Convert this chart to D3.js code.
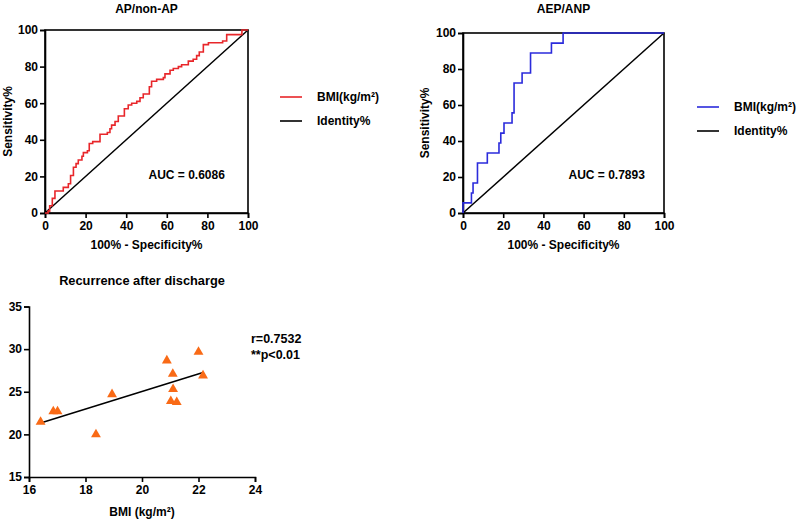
<!DOCTYPE html>
<html>
<head>
<meta charset="utf-8">
<script src="https://cdn.jsdelivr.net/npm/d3@7"></script>
<style>
  body { margin: 0; background: #fff; }
  svg { display: block; font-family: "Liberation Sans", Arial, sans-serif; font-weight: bold; }
</style>
</head>
<body>
<div id="chart"></div>
<script>
// ROC data: [100% - specificity, sensitivity] at each rise of the staircase
const rocTicks = [0, 20, 40, 60, 80, 100];
const apRoc = [[0,0],[1.5,1],[2.3,4],[3.6,8],[4.9,12],[9,14],[11.5,16],[12.6,20.5],[14,25],[15.3,27],
  [16.4,29],[18.2,31],[18.9,33],[20.9,34],[21.8,38],[23.5,39],[27.1,43],[30.7,44],[32,46],[32.8,48],
  [34.5,50],[36.1,53],[39.1,57],[41,59],[42.7,60],[45.2,61],[46.8,63],[48.4,65],[51.4,69],[52.5,72],
  [55,73],[58.3,74],[59.1,76],[61.6,78],[63.2,79],[65.7,80],[67.3,81],[70.6,83],[73,84],[74.7,86],
  [76,88],[78,92],[80.5,93],[87.5,94],[89.5,97.5],[97,100],[100,100]];
const aepRoc = [[0,0],[0,5.6],[4.2,11.1],[5,16.7],[7.2,27.8],[12.1,33.3],[17.9,38.9],[18.8,44.4],
  [20.4,50],[24.4,55.6],[25.4,72.2],[29.4,77.8],[33.6,88.9],[44,94.4],[49.8,100],[100,100]];
const identity = [[0,0],[100,100]];

// scatter data
const bmi = [16.41, 16.86, 17.01, 18.37, 18.94, 20.88, 22.0, 21.09, 22.16, 21.10, 21.02, 21.23];
const recurrence = [21.45, 22.7, 22.7, 20.0, 24.7, 28.66, 29.67, 27.1, 26.9, 25.3, 23.9, 23.77];
const fitX = [16.41, 22.16];
const fitY = [21.34, 27.25];
const scatterXTicks = [16, 18, 20, 22, 24];
const scatterYTicks = [15, 20, 25, 30, 35];

const W = 800, H = 523;
const svg = d3.select("#chart").append("svg").attr("width", W).attr("height", H);

function styleAxis(g) {
  g.selectAll("path").attr("stroke", "#000").attr("stroke-width", 1.6);
  g.selectAll("line").attr("stroke", "#000").attr("stroke-width", 1.6);
  g.selectAll("text").attr("font-family", "Liberation Sans, Arial, sans-serif")
    .attr("font-weight", "bold").attr("font-size", 12).attr("fill", "#000");
}

function drawRoc(o) {
  const x = d3.scaleLinear().domain([0, 100]).range([o.x0, o.x1]);
  const y = d3.scaleLinear().domain([0, 100]).range([o.y0, o.y1]);

  // frame
  svg.append("rect").attr("x", o.x0).attr("y", o.y1)
    .attr("width", o.x1 - o.x0).attr("height", o.y0 - o.y1)
    .attr("fill", "none").attr("stroke", "#000").attr("stroke-width", 1.6);

  svg.append("g").attr("transform", `translate(0,${o.y0})`)
    .call(d3.axisBottom(x).tickValues(rocTicks).tickSize(5).tickPadding(3))
    .call(styleAxis);
  svg.append("g").attr("transform", `translate(${o.x0},0)`)
    .call(d3.axisLeft(y).tickValues(rocTicks).tickSize(5).tickPadding(2))
    .call(styleAxis);

  svg.append("path").datum(identity)
    .attr("fill", "none").attr("stroke", "#000").attr("stroke-width", 1.5)
    .attr("d", d3.line().x(d => x(d[0])).y(d => y(d[1])));

  svg.append("path").datum(o.data)
    .attr("fill", "none").attr("stroke", o.color).attr("stroke-width", 1.6)
    .attr("d", d3.line().x(d => x(d[0])).y(d => y(d[1])).curve(d3.curveStepAfter));

  svg.append("text").attr("x", (o.x0 + o.x1) / 2).attr("y", 13)
    .attr("text-anchor", "middle").attr("font-size", 12).text(o.title);
  svg.append("text").attr("transform", `translate(${o.ylx},${(o.y0 + o.y1) / 2}) rotate(-90)`)
    .attr("text-anchor", "middle").attr("font-size", 12).attr("dy", "0.35em").text("Sensitivity%");
  svg.append("text").attr("x", (o.x0 + o.x1) / 2).attr("y", 249)
    .attr("text-anchor", "middle").attr("font-size", 12).text("100% - Specificity%");
  svg.append("text").attr("x", x(o.aucX)).attr("y", 179)
    .attr("font-size", 12).text(o.auc);

  // legend
  const lg = svg.append("g").attr("transform", `translate(${o.lx},${o.ly})`);
  [["BMI(kg/m²)", o.color], ["Identity%", "#000"]].forEach((d, i) => {
    lg.append("line").attr("x1", 0).attr("x2", 22).attr("y1", i * 24).attr("y2", i * 24)
      .attr("stroke", d[1]).attr("stroke-width", 1.6);
    lg.append("text").attr("x", 37).attr("y", i * 24).attr("dy", "0.35em")
      .attr("font-size", 12).text(d[0]);
  });
}

drawRoc({ x0: 45, x1: 248, y0: 213, y1: 30, data: apRoc, color: "#E8262A",
  title: "AP/non-AP", ylx: 8, auc: "AUC = 0.6086", aucX: 51, lx: 280, ly: 97 });
drawRoc({ x0: 463, x1: 664, y0: 213, y1: 33, data: aepRoc, color: "#2B2BDB",
  title: "AEP/ANP", ylx: 425, auc: "AUC = 0.7893", aucX: 52.5, lx: 697, ly: 107 });

// scatter: recurrence after discharge
const sx = d3.scaleLinear().domain([16, 24]).range([29, 255]);
const sy = d3.scaleLinear().domain([15, 35]).range([477, 306.5]);

svg.append("g").attr("transform", "translate(0,477)")
  .call(d3.axisBottom(sx).tickValues(scatterXTicks).tickSize(5).tickPadding(3))
  .call(styleAxis);
svg.append("g").attr("transform", "translate(29,0)")
  .call(d3.axisLeft(sy).tickValues(scatterYTicks).tickSize(5).tickPadding(2))
  .call(styleAxis);

svg.append("path").datum(d3.zip(fitX, fitY))
  .attr("fill", "none").attr("stroke", "#000").attr("stroke-width", 1.5)
  .attr("d", d3.line().x(d => sx(d[0])).y(d => sy(d[1])));

svg.append("g").selectAll("path").data(d3.zip(bmi, recurrence)).join("path")
  .attr("transform", d => `translate(${sx(d[0])},${sy(d[1])})`)
  .attr("d", d3.symbol(d3.symbolTriangle, 42))
  .attr("fill", "#F96A16");

svg.append("text").attr("x", 142).attr("y", 285).attr("text-anchor", "middle")
  .attr("font-size", 12.8).text("Recurrence after discharge");
svg.append("text").attr("x", 142).attr("y", 516).attr("text-anchor", "middle")
  .attr("font-size", 12).text("BMI (kg/m²)");
svg.append("text").attr("x", 251).attr("y", 343).attr("font-size", 12.5).text("r=0.7532");
svg.append("text").attr("x", 251).attr("y", 359).attr("font-size", 12.5).text("**p<0.01");
</script>
</body>
</html>
